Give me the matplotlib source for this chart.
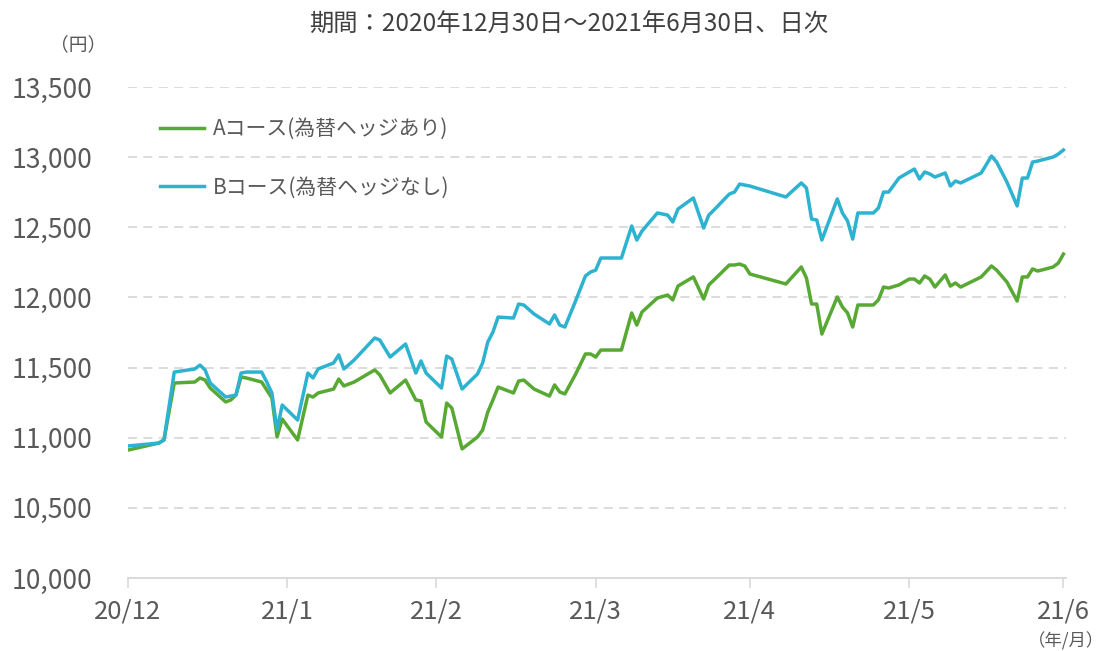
import matplotlib
matplotlib.use("Agg")
import matplotlib.pyplot as plt
import pandas as pd

plt.rcParams['font.family'] = ['Noto Sans CJK JP', 'DejaVu Sans']

# daily values (approx.)
dates = [
    "2020-12-30", "2021-01-05", "2021-01-06", "2021-01-08", "2021-01-12", "2021-01-13",
    "2021-01-14", "2021-01-15", "2021-01-18", "2021-01-19", "2021-01-20", "2021-01-21",
    "2021-01-22", "2021-01-25", "2021-01-26", "2021-01-27", "2021-01-28", "2021-01-29",
    "2021-02-01", "2021-02-03", "2021-02-04", "2021-02-05", "2021-02-08", "2021-02-09",
    "2021-02-10", "2021-02-12", "2021-02-16", "2021-02-17", "2021-02-19", "2021-02-22",
    "2021-02-24", "2021-02-25", "2021-02-26", "2021-03-01", "2021-03-02", "2021-03-03",
    "2021-03-05", "2021-03-08", "2021-03-09", "2021-03-10", "2021-03-11", "2021-03-12",
    "2021-03-15", "2021-03-16", "2021-03-17", "2021-03-19", "2021-03-22", "2021-03-23",
    "2021-03-24", "2021-03-25", "2021-03-27", "2021-03-29", "2021-03-30", "2021-03-31",
    "2021-04-01", "2021-04-05", "2021-04-07", "2021-04-08", "2021-04-09", "2021-04-12",
    "2021-04-14", "2021-04-15", "2021-04-16", "2021-04-19", "2021-04-21", "2021-04-22",
    "2021-04-23", "2021-04-26", "2021-04-27", "2021-04-28", "2021-04-29", "2021-04-30",
    "2021-05-07", "2021-05-10", "2021-05-11", "2021-05-12", "2021-05-13", "2021-05-14",
    "2021-05-17", "2021-05-18", "2021-05-19", "2021-05-20", "2021-05-21", "2021-05-24",
    "2021-05-25", "2021-05-26", "2021-05-27", "2021-05-29", "2021-05-31", "2021-06-01",
    "2021-06-02", "2021-06-03", "2021-06-04", "2021-06-05", "2021-06-07", "2021-06-08",
    "2021-06-09", "2021-06-10", "2021-06-14", "2021-06-16", "2021-06-17", "2021-06-19",
    "2021-06-21", "2021-06-22", "2021-06-23", "2021-06-24", "2021-06-25", "2021-06-28",
    "2021-06-29", "2021-06-30",
]

course_a = [
    10912, 10962, 10984, 11390, 11397, 11426, 11411, 11354, 11255, 11269, 11304, 11433,
    11426, 11397, 11340, 11283, 11005, 11133, 10984, 11304, 11290, 11319, 11347, 11418,
    11369, 11397, 11483, 11447, 11319, 11411, 11269, 11262, 11112, 11005, 11247, 11212,
    10920, 11005, 11055, 11183, 11269, 11361, 11319, 11404, 11411, 11347, 11297, 11376,
    11326, 11312, 11447, 11597, 11597, 11575, 11625, 11625, 11889, 11803, 11896, 11996,
    12017, 11982, 12081, 12146, 11989, 12089, 12124, 12231, 12231, 12238, 12224, 12167,
    12096, 12217, 12138, 11953, 11953, 11739, 12003, 11932, 11889, 11789, 11946, 11946,
    11982, 12074, 12067, 12089, 12131, 12131, 12103, 12153, 12131, 12074, 12160, 12081,
    12103, 12074, 12146, 12224, 12195, 12110, 11974, 12146, 12146, 12203, 12188, 12217,
    12245, 12309,
]

course_b = [
    10941, 10962, 10984, 11468, 11490, 11518, 11483, 11390, 11290, 11297, 11304, 11461,
    11468, 11468, 11397, 11319, 11055, 11233, 11126, 11461, 11426, 11490, 11533, 11590,
    11490, 11554, 11711, 11696, 11575, 11668, 11461, 11547, 11461, 11354, 11582, 11561,
    11347, 11454, 11533, 11682, 11753, 11860, 11853, 11953, 11946, 11882, 11811, 11875,
    11803, 11789, 11967, 12153, 12181, 12195, 12281, 12281, 12509, 12409, 12473, 12602,
    12587, 12538, 12630, 12709, 12495, 12587, 12623, 12737, 12751, 12808, 12801, 12794,
    12716, 12816, 12780, 12559, 12552, 12409, 12702, 12602, 12545, 12416, 12602, 12602,
    12637, 12751, 12751, 12851, 12894, 12915, 12844, 12894, 12880, 12858, 12887, 12794,
    12830, 12816, 12887, 13008, 12965, 12823, 12652, 12851, 12851, 12965, 12972, 13001,
    13022, 13051,
]

labels = ["Aコース(為替ヘッジあり)", "Bコース(為替ヘッジなし)"]
colors = ["#58A933", "#2DB2D0"]

tick_dates = ["2020-12-30", "2021-01-30", "2021-02-28", "2021-03-31",
              "2021-04-30", "2021-05-31", "2021-06-30"]
tick_labels = ["20/12", "21/1", "21/2", "21/3", "21/4", "21/5", "21/6"]
y_ticks = [10000, 10500, 11000, 11500, 12000, 12500, 13000, 13500]

x = pd.to_datetime(dates)
text_color = "#595959"

fig = plt.figure(figsize=(11.07, 6.51), dpi=100)
ax = fig.add_axes([128 / 1107, 1 - 578 / 651, 938 / 1107, (578 - 87) / 651])

ax.plot(x, course_a, color=colors[0], linewidth=2.5, label=labels[0])
ax.plot(x, course_b, color=colors[1], linewidth=2.5, label=labels[1])

ax.set_ylim(10000, 13500)
ax.set_yticks(y_ticks)
ax.set_yticklabels([f"{v:,}" for v in y_ticks])
x0 = pd.Timestamp("2020-12-30")
ax.set_xlim(x0, x0 + pd.Timedelta(hours=182.5 * 24))
ax.set_xticks(pd.to_datetime(tick_dates))
ax.set_xticklabels(tick_labels)

ax.grid(axis="y", color="#D9D9D9", linestyle=(0, (5, 3.5)), linewidth=1.3)
ax.set_axisbelow(True)
for side in ["top", "right", "left"]:
    ax.spines[side].set_visible(False)
ax.spines["bottom"].set_color("#D9D9D9")
ax.spines["bottom"].set_linewidth(1.3)

ax.tick_params(axis="y", length=0, pad=26, labelsize=19, labelcolor=text_color)
ax.tick_params(axis="x", length=7, width=1.2, color="#D9D9D9", pad=8,
               labelsize=18.5, labelcolor=text_color)

fig.text(569 / 1107, 1 - 25 / 651, "期間：2020年12月30日～2021年6月30日、日次",
         ha="center", va="center", fontsize=17.5, color="#404040")
fig.text(78 / 1107, 1 - 45 / 651, "（円）", ha="center", va="center",
         fontsize=13.5, color=text_color)
fig.text(1066 / 1107, 1 - 641 / 651, "（年/月）", ha="center", va="center",
         fontsize=12.5, color=text_color)

ax.legend(loc="upper left", bbox_to_anchor=(160 / 1107, 1 - 118 / 651),
          bbox_transform=fig.transFigure, frameon=False, fontsize=15,
          handlelength=2.1, handletextpad=0.45, labelspacing=1.75,
          borderpad=0, borderaxespad=0, labelcolor=text_color)

fig.savefig("out.png", dpi=100)
